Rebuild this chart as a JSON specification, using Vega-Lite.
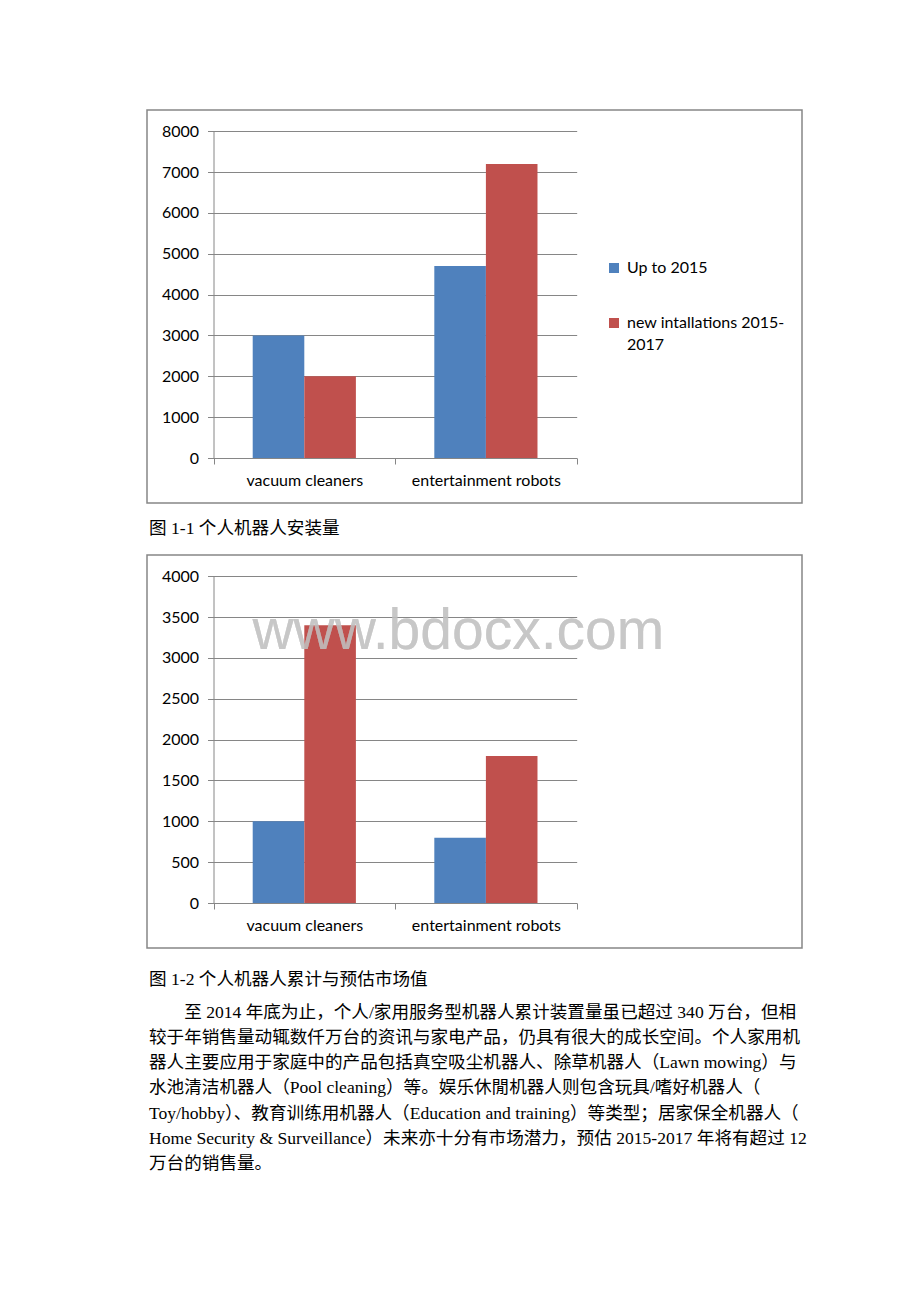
{
  "$schema": "https://vega.github.io/schema/vega-lite/v6.json",
  "background": "white",
  "padding": {"left": 146, "top": 109, "right": 0, "bottom": 0},
  "spacing": 15,
  "config": {
    "view": {"stroke": "#868686", "strokeWidth": 1.5},
    "axis": {
      "labelFont": "Lato",
      "labelFontSize": 16,
      "labelColor": "#000000",
      "domainColor": "#868686",
      "tickColor": "#868686",
      "gridColor": "#868686",
      "gridWidth": 1,
      "tickSize": 6,
      "title": null
    },
    "legend": {
      "labelFont": "Lato",
      "labelFontSize": 16,
      "labelColor": "#000000",
      "labelLimit": 300,
      "symbolType": "square",
      "symbolSize": 100,
      "symbolStrokeWidth": 0,
      "labelOffset": 5
    },
    "style": {
      "guide-label": {"lineHeight": 22}
    },
    "title": {
      "font": "Liberation Serif, Noto Sans CJK SC",
      "fontSize": 17.6,
      "fontWeight": "normal",
      "color": "#000000",
      "subtitleFont": "Liberation Serif, Noto Sans CJK SC",
      "subtitleFontSize": 17.6,
      "subtitleColor": "#000000",
      "subtitleLineHeight": 25.3,
      "subtitlePadding": 15
    }
  },
  "datasets": {
    "installs": [
      {"category": "vacuum cleaners", "series": "Up to 2015", "value": 3000},
      {"category": "vacuum cleaners", "series": "new intallations 2015-2017", "value": 2000},
      {"category": "entertainment robots", "series": "Up to 2015", "value": 4700},
      {"category": "entertainment robots", "series": "new intallations 2015-2017", "value": 7200}
    ],
    "market": [
      {"category": "vacuum cleaners", "series": "Up to 2015", "value": 1000},
      {"category": "vacuum cleaners", "series": "new intallations 2015-2017", "value": 3400},
      {"category": "entertainment robots", "series": "Up to 2015", "value": 800},
      {"category": "entertainment robots", "series": "new intallations 2015-2017", "value": 1800}
    ]
  },
  "vconcat": [
    {
      "width": 655,
      "height": 393,
      "data": {"name": "installs"},
      "title": {
        "text": "图 1-1 个人机器人安装量",
        "orient": "bottom",
        "anchor": "start",
        "frame": "group",
        "baseline": "top",
        "offset": 17,
        "dx": 2
      },
      "mark": {"type": "bar"},
      "encoding": {
        "x": {
          "field": "category",
          "type": "nominal",
          "sort": ["vacuum cleaners", "entertainment robots"],
          "scale": {"range": [66.5, 429.7], "paddingInner": 0, "paddingOuter": 0},
          "axis": {"labelAngle": 0, "offset": -45, "tickBand": "extent", "labelPadding": 8, "grid": false}
        },
        "xOffset": {
          "field": "series",
          "type": "nominal",
          "sort": ["Up to 2015", "new intallations 2015-2017"],
          "scale": {"paddingInner": 0, "paddingOuter": 0.76}
        },
        "y": {
          "field": "value",
          "type": "quantitative",
          "scale": {"domain": [0, 8000], "range": [348, 21.3], "nice": false},
          "axis": {"values": [0, 1000, 2000, 3000, 4000, 5000, 6000, 7000, 8000], "format": "d", "offset": -66.5, "labelPadding": 9, "grid": true}
        },
        "color": {
          "field": "series",
          "type": "nominal",
          "scale": {"domain": ["Up to 2015", "new intallations 2015-2017"], "range": ["#4F81BD", "#C0504D"]},
          "legend": {
            "title": null,
            "orient": "none",
            "legendX": 459,
            "legendY": 150,
            "rowPadding": 39,
            "labelExpr": "datum.label == 'new intallations 2015-2017' ? ['new intallations 2015-', '2017'] : datum.label"
          }
        }
      }
    },
    {
      "width": 655,
      "height": 393,
      "data": {"name": "market"},
      "title": {
        "text": "图 1-2 个人机器人累计与预估市场值",
        "orient": "bottom",
        "anchor": "start",
        "frame": "group",
        "baseline": "top",
        "offset": 23,
        "dx": 2,
        "subtitle": [
          "​　　至 2014 年底为止，个人/家用服务型机器人累计装置量虽已超过 340 万台，但相",
          "较于年销售量动辄数仟万台的资讯与家电产品，仍具有很大的成长空间。个人家用机",
          "器人主要应用于家庭中的产品包括真空吸尘机器人、除草机器人（Lawn mowing）与",
          "水池清洁机器人（Pool cleaning）等。娱乐休閒机器人则包含玩具/嗜好机器人（",
          "Toy/hobby）、教育训练用机器人（Education and training）等类型；居家保全机器人（",
          "Home Security & Surveillance）未来亦十分有市场潜力，预估 2015-2017 年将有超过 12",
          "万台的销售量。"
        ]
      },
      "layer": [
        {
          "mark": {"type": "bar"},
          "encoding": {
            "x": {
              "field": "category",
              "type": "nominal",
              "sort": ["vacuum cleaners", "entertainment robots"],
              "scale": {"range": [66.5, 429.7], "paddingInner": 0, "paddingOuter": 0},
              "axis": {"labelAngle": 0, "offset": -45, "tickBand": "extent", "labelPadding": 8, "grid": false}
            },
            "xOffset": {
              "field": "series",
              "type": "nominal",
              "sort": ["Up to 2015", "new intallations 2015-2017"],
              "scale": {"paddingInner": 0, "paddingOuter": 0.76}
            },
            "y": {
              "field": "value",
              "type": "quantitative",
              "scale": {"domain": [0, 4000], "range": [348, 21.3], "nice": false},
              "axis": {"values": [0, 500, 1000, 1500, 2000, 2500, 3000, 3500, 4000], "format": "d", "offset": -66.5, "labelPadding": 9, "grid": true}
            },
            "color": {
              "field": "series",
              "type": "nominal",
              "scale": {"domain": ["Up to 2015", "new intallations 2015-2017"], "range": ["#4F81BD", "#C0504D"]},
              "legend": {
                "title": null,
                "orient": "none",
                "legendX": 459,
                "legendY": 150,
                "rowPadding": 39,
                "labelExpr": "datum.label == 'new intallations 2015-2017' ? ['new intallations 2015-', '2017'] : datum.label"
              }
            }
          }
        },
        {
          "mark": {"type": "text", "text": "www.bdocx.com", "font": "Liberation Sans", "fontSize": 57, "fill": "#c0c0c0", "opacity": 0.4, "align": "center", "baseline": "middle", "dx": 154},
          "encoding": {
            "x": {"datum": "vacuum cleaners"},
            "y": {"datum": 3316}
          }
        }
      ]
    }
  ]
}
